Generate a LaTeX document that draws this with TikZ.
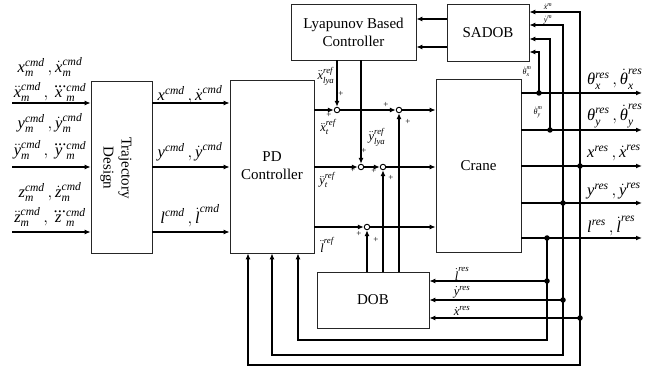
\documentclass[tikz,border=0pt]{standalone}
\usepackage{amsmath}
\usepackage{fontspec}
\setmainfont{Liberation Serif}
\usetikzlibrary{arrows.meta}
\newcommand\I[1]{\text{\itshape #1}}
\tikzset{
 box/.style={draw=black!85, line width=0.7pt, inner sep=0pt},
 sig/.style={line width=1.5pt, -{Latex[length=6pt,width=5pt]}},
 wire/.style={line width=1.5pt},
 sumj/.style={circle, draw, line width=0.9pt, fill=white, minimum size=5.5pt, inner sep=0pt},
 jdot/.style={circle, fill, minimum size=5.5pt, inner sep=0pt},
 lbl/.style={inner sep=0pt, font=\fontsize{16.5}{19}\selectfont},
 slbl/.style={inner sep=0pt, font=\fontsize{12.5}{14}\selectfont},
 tlbl/.style={inner sep=0pt, font=\fontsize{8}{9}\selectfont},
 pls/.style={inner sep=0pt, font=\fontsize{9}{10}\selectfont},
 btxt/.style={font=\fontsize{15}{18}\selectfont, align=center}
}
\begin{document}
\begin{tikzpicture}[x=1pt,y=-1pt]
\useasboundingbox (0,0) rectangle (670,374);
% boxes
\node[box, minimum width=61pt, minimum height=172pt] (td) at (121.5,167) {};
\node[btxt, rotate=-90] (tdt) at (116,168) {Trajectory\\Design};
\node[box, minimum width=84pt, minimum height=173pt] (pd) at (272,166.5) {};
\node[btxt] (pdt) at (272,166) {PD\\Controller};
\node[box, minimum width=125pt, minimum height=56pt, btxt] (lya) at (353.5,32) {Lyapunov Based\\Controller};
\node[box, minimum width=82pt, minimum height=57pt, btxt] (sadob) at (488,32.5) {SADOB};
\node[box, minimum width=85pt, minimum height=173pt, btxt] (crane) at (478.5,165.5) {Crane};
\node[box, minimum width=112pt, minimum height=56pt, btxt] (dob) at (373,300) {DOB};
% inputs
\coordinate (ina) at (12,103);
\coordinate (inb) at (12,167);
\coordinate (inc) at (12,232);
\foreach \n in {a,b,c}{
  \draw[sig] (in\n) -- (in\n -| td.west);
  \draw[sig] (td.east |- in\n) -- (pd.west |- in\n);
}
% summing junctions
\node[sumj] (s1) at (337,110) {};
\node[sumj] (s2) at (399,110) {};
\node[sumj] (s3) at (361,167) {};
\node[sumj] (s4) at (383,167) {};
\node[sumj] (s5) at (367,227) {};
\draw[sig] (pd.east |- s1) -- (s1);
\draw[sig] (s1) -- (s2);
\draw[sig] (s2) -- (s2 -| crane.west);
\draw[sig] (pd.east |- s3) -- (s3);
\draw[sig] (s3) -- (s4);
\draw[sig] (s4) -- (s4 -| crane.west);
\draw[sig] (pd.east |- s5) -- (s5);
\draw[sig] (s5) -- (s5 -| crane.west);
\draw[sig] (s1 |- lya.south) -- (s1);
\draw[sig] (s3 |- lya.south) -- (s3);
\draw[sig] (s2 |- dob.north) -- (s2);
\draw[sig] (s4 |- dob.north) -- (s4);
\draw[sig] (s5 |- dob.north) -- (s5);
% SADOB -> Lyapunov
\coordinate (sa) at (447,19);
\coordinate (sb) at (447,47);
\draw[sig] (sadob.west |- sa) -- (lya.east |- sa);
\draw[sig] (sadob.west |- sb) -- (lya.east |- sb);
% outputs
\coordinate (o1) at (642,93);
\coordinate (o2) at (642,130);
\coordinate (o3) at (642,166);
\coordinate (o4) at (642,203);
\coordinate (o5) at (642,238);
\foreach \n in {1,...,5}{ \draw[sig] (crane.east |- o\n) -- (o\n); }
\coordinate (t1) at (539,52);
\coordinate (t2) at (550,39);
\coordinate (t3) at (580,12);
\coordinate (t4) at (563,25);
\coordinate (f5) at (547,340);
\coordinate (f4) at (563,355);
\coordinate (f3) at (580,365);
\coordinate (p5) at (298,340);
\coordinate (p4) at (272,355);
\coordinate (p3) at (248,365);
\coordinate (e5) at (547,281);
\coordinate (e4) at (563,300);
\coordinate (e3) at (580,318);
\draw[sig] (t1 |- o1) -- (t1) -- (t1 -| sadob.east);
\draw[sig] (t2 |- o2) -- (t2) -- (t2 -| sadob.east);
\draw[sig] (e3) -- (t3) -- (t3 -| sadob.east);
\draw[sig] (e4) -- (t4) -- (t4 -| sadob.east);
\draw[wire] (e5 |- o5) -- (e5);
\draw[sig] (e5) -- (e5 -| dob.east);
\draw[sig] (e4) -- (e4 -| dob.east);
\draw[sig] (e3) -- (e3 -| dob.east);
\draw[sig] (e5) -- (f5) -- (p5) -- (p5 |- pd.south);
\draw[sig] (e4) -- (f4) -- (p4) -- (p4 |- pd.south);
\draw[sig] (e3) -- (f3) -- (p3) -- (p3 |- pd.south);
% junction dots
\node[jdot] (d1) at (t1 |- o1) {};
\node[jdot] (d2) at (t2 |- o2) {};
\node[jdot] (d3) at (t3 |- o3) {};
\node[jdot] (d4) at (t4 |- o4) {};
\node[jdot] (d5) at (e5 |- o5) {};
\node[jdot] (j5) at (e5) {};
\node[jdot] (j4) at (e4) {};
\node[jdot] (j3) at (e3) {};
% left labels
\node[lbl] (l1) at (50,67) {$\I{x}^{\I{cmd}}_{\I{m}}\,,\dot{\I{x}}^{\I{cmd}}_{\I{m}}$};
\node[lbl] (l2) at (50,92) {$\ddot{\I{x}}^{\I{cmd}}_{\I{m}}\,,\dddot{\I{x}}^{\I{cmd}}_{\I{m}}$};
\node[lbl] (l3) at (50,123) {$\I{y}^{\I{cmd}}_{\I{m}}\,,\dot{\I{y}}^{\I{cmd}}_{\I{m}}$};
\node[lbl] (l4) at (50,150) {$\ddot{\I{y}}^{\I{cmd}}_{\I{m}}\,,\dddot{\I{y}}^{\I{cmd}}_{\I{m}}$};
\node[lbl] (l5) at (50,192) {$\I{z}^{\I{cmd}}_{\I{m}}\,,\dot{\I{z}}^{\I{cmd}}_{\I{m}}$};
\node[lbl] (l6) at (50,217) {$\ddot{\I{z}}^{\I{cmd}}_{\I{m}}\,,\dddot{\I{z}}^{\I{cmd}}_{\I{m}}$};
% trajectory outputs
\node[lbl] (c1) at (190,95) {$\I{x}^{\I{cmd}}\,,\dot{\I{x}}^{\I{cmd}}$};
\node[lbl] (c2) at (190,152) {$\I{y}^{\I{cmd}}\,,\dot{\I{y}}^{\I{cmd}}$};
\node[lbl] (c3) at (190,216) {$\I{l}^{\I{cmd}}\,,\dot{\I{l}}^{\I{cmd}}$};
% reference labels
\node[slbl] (r1) at (326,76) {$\ddot{\I{x}}^{\I{ref}}_{\I{lya}}$};
\node[slbl] (r2) at (377,137) {$\ddot{\I{y}}^{\I{ref}}_{\I{lya}}$};
\node[slbl] (r3) at (328,127) {$\ddot{\I{x}}^{\I{ref}}_{\I{t}}$};
\node[slbl] (r4) at (327,180) {$\ddot{\I{y}}^{\I{ref}}_{\I{t}}$};
\node[slbl] (r5) at (327,245) {$\ddot{\I{l}}^{\I{ref}}$};
% plus signs
\foreach \px/\py in {341/94,329/115,386/105,408/122,364/151,353/170,374/171,391/178,359/234,376/240}
  \node[pls] at (\px,\py) {+};
% output labels
\node[lbl, anchor=west] (q1) at (587,79) {$\I{θ}_{\I{x}}^{\I{res}}\,,\dot{\I{θ}}_{\I{x}}^{\I{res}}$};
\node[lbl, anchor=west] (q2) at (587,116) {$\I{θ}_{\I{y}}^{\I{res}}\,,\dot{\I{θ}}_{\I{y}}^{\I{res}}$};
\node[lbl, anchor=west] (q3) at (587,153) {$\I{x}^{\I{res}}\,,\dot{\I{x}}^{\I{res}}$};
\node[lbl, anchor=west] (q4) at (587,191) {$\I{y}^{\I{res}}\,,\dot{\I{y}}^{\I{res}}$};
\node[lbl, anchor=west] (q5) at (587,226) {$\I{l}^{\I{res}}\,,\dot{\I{l}}^{\I{res}}$};
% DOB input labels
\node[slbl] (g1) at (462,274) {$\dot{\I{l}}^{\I{res}}$};
\node[slbl] (g2) at (462,292) {$\dot{\I{y}}^{\I{res}}$};
\node[slbl] (g3) at (462,311) {$\dot{\I{x}}^{\I{res}}$};
% SADOB input labels
\node[tlbl] (h1) at (548,7) {$\dot{\I{x}}^{\I{m}}$};
\node[tlbl] (h2) at (548,20) {$\dot{\I{y}}^{\I{m}}$};
\node[tlbl] (h3) at (527,72) {$\dot{\I{θ}}_{\I{x}}^{\I{m}}$};
\node[tlbl] (h4) at (538,112) {$\dot{\I{θ}}_{\I{y}}^{\I{m}}$};
\end{tikzpicture}
\end{document}
